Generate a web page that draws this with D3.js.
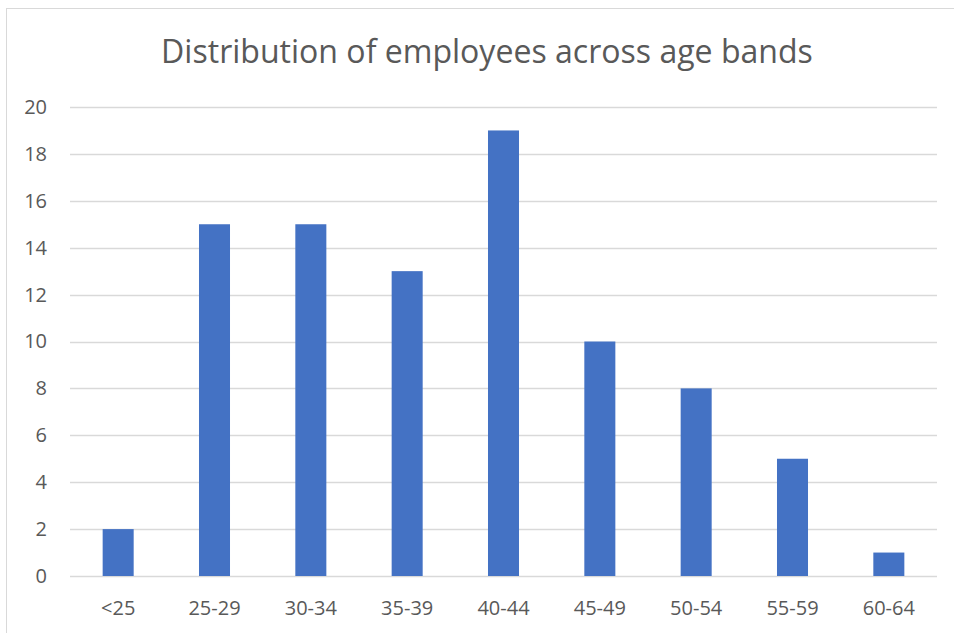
<!DOCTYPE html>
<html>
<head>
<meta charset="utf-8">
<script src="https://cdn.jsdelivr.net/npm/d3@7"></script>
<style>
  html, body { margin: 0; padding: 0; background: #fff; }
  svg { display: block; }
  text { font-family: "Open Sans", "Liberation Sans", sans-serif; fill: #595959; }
</style>
</head>
<body>
<svg id="chart" width="954" height="633"></svg>
<script>
// Age bands and employee counts per band
const ageBands = ["<25", "25-29", "30-34", "35-39", "40-44", "45-49", "50-54", "55-59", "60-64"];
const employeeCounts = [2, 15, 15, 13, 19, 10, 8, 5, 1];
const yTicks = [0, 2, 4, 6, 8, 10, 12, 14, 16, 18, 20];
const chartTitle = "Distribution of employees across age bands";

const svg = d3.select("#chart");
const W = 954, H = 633;
const plot = { left: 70, right: 937, top: 107, bottom: 576 };
const labelSize = 20;

// Chart frame
svg.append("rect")
  .attr("x", 6.5).attr("y", 8.5)
  .attr("width", W + 10).attr("height", H + 10)
  .attr("fill", "#fff").attr("stroke", "#d9d9d9").attr("stroke-width", 1);

const x = d3.scaleBand().domain(ageBands).range([plot.left, plot.right]).padding(0);
const y = d3.scaleLinear().domain([0, 20]).range([plot.bottom, plot.top]);

// Gridlines
svg.append("g")
  .selectAll("line")
  .data(yTicks)
  .join("line")
  .attr("x1", plot.left).attr("x2", plot.right)
  .attr("y1", d => Math.round(y(d)) + 0.5).attr("y2", d => Math.round(y(d)) + 0.5)
  .attr("stroke", "#d9d9d9").attr("stroke-width", 1.3);

// Y axis labels
const yAxis = svg.append("g")
  .attr("transform", "translate(47,0)")
  .call(d3.axisLeft(y).tickValues(yTicks).tickSize(0).tickPadding(0));
yAxis.attr("font-size", null).attr("font-family", null);
yAxis.select(".domain").remove();
yAxis.selectAll("text")
  .style("font-size", labelSize + "px")
  .attr("fill", "#595959");

// Bars
const barW = x.bandwidth() * 0.322;
svg.append("g")
  .selectAll("rect")
  .data(employeeCounts)
  .join("rect")
  .attr("x", (d, i) => x(ageBands[i]) + (x.bandwidth() - barW) / 2)
  .attr("y", d => y(d))
  .attr("width", barW)
  .attr("height", d => y(0) - y(d))
  .attr("fill", "#4472c4");

// X axis labels
const xAxis = svg.append("g")
  .attr("transform", "translate(0,601)")
  .call(d3.axisBottom(x).tickSize(0).tickPadding(0));
xAxis.attr("font-size", null).attr("font-family", null);
xAxis.select(".domain").remove();
xAxis.selectAll("text")
  .style("font-size", labelSize + "px")
  .attr("fill", "#595959");

// Title
const title = svg.append("text")
  .attr("x", (161 + 813) / 2)
  .attr("y", 63)
  .attr("text-anchor", "middle")
  .style("font-size", "28px")
  .text(chartTitle);
const tw = title.node().getComputedTextLength();
title.style("font-size", (28 * 652 / tw) + "px");
</script>
</body>
</html>
